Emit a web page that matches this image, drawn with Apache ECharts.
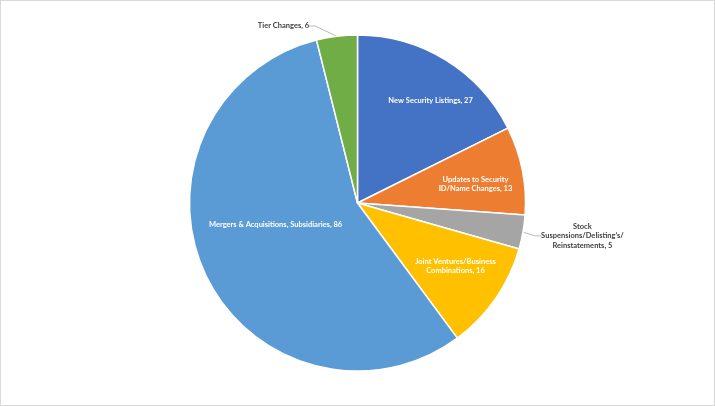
<!DOCTYPE html>
<html><head><meta charset="utf-8">
<script src="https://cdn.jsdelivr.net/npm/echarts@6/dist/echarts.min.js"></script>
<style>
html,body{margin:0;padding:0;background:#fff;}
#c{width:715px;height:406px;box-sizing:border-box;border:1px solid #d9d9d9;}
</style></head>
<body><div id="c"></div>
<script>
// Data
const categories = [
  "New Security Listings",
  "Updates to Security\nID/Name Changes",
  "Stock\nSuspensions/Delisting\u2019s/\nReinstatements",
  "Joint Ventures/Business\nCombinations",
  "Mergers & Acquisitions, Subsidiaries",
  "Tier Changes"
];
const values = [27, 13, 5, 16, 86, 6];

// Styles
const colors = ["#4472C4", "#ED7D31", "#A5A5A5", "#FFC000", "#5B9BD5", "#70AD47"];
const outsideLabel = [false, false, true, false, false, true];
// label placement: [angle deg clockwise from top, radius fraction]
const labelPlace = [[35.6,0.747],[80.9,0.711],[98.3,1.353],[122.7,0.693],[255,0.505],[337.3,1.142]];
const R = 168;

const chart = echarts.init(document.getElementById('c'), null, {renderer:'canvas'});
const data = categories.map((n,i)=>({
  name:n, value:values[i],
  itemStyle:{color:colors[i]},
  label:{color: outsideLabel[i] ? '#404040' : '#ffffff'},
  labelLine:{show: outsideLabel[i]}
}));
chart.setOption({
  animation:false,
  series:[{
    type:'pie',
    center:['50%','50%'],
    radius:[0,R],
    startAngle:90,
    clockwise:true,
    data:data,
    itemStyle:{borderColor:'#fff',borderWidth:1.5},
    label:{
      show:true,
      position:'outside',
      formatter:'{b}, {c}',
      fontFamily:'Lato',
      fontWeight:'bold',
      fontSize:7.5,
      lineHeight:9.5,
      align:'center'
    },
    labelLine:{length:8,length2:6,lineStyle:{color:'#a6a6a6',width:0.8}},
    labelLayout:function(p){
      const w = chart.getWidth(), h = chart.getHeight();
      const cx = w/2, cy = h/2;
      const pl = labelPlace[p.dataIndex];
      const a = pl[0]*Math.PI/180, r = pl[1]*R;
      return {x: cx + r*Math.sin(a), y: cy - r*Math.cos(a), align:'center', verticalAlign:'middle'};
    }
  }]
});
</script></body></html>
